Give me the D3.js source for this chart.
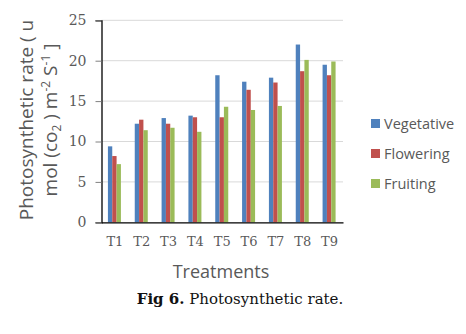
<!DOCTYPE html>
<html>
<head>
<meta charset="utf-8">
<script src="https://cdn.jsdelivr.net/npm/d3@7"></script>
<style>
  body { margin: 0; background: #fff; }
  svg { display: block; }
</style>
</head>
<body>
<div id="chart"></div>
<script>
// treatments and photosynthetic rate per growth stage
const treatments = ["T1", "T2", "T3", "T4", "T5", "T6", "T7", "T8", "T9"];
const stages = ["Vegetative", "Flowering", "Fruiting"];
const vegetative = [9.4, 12.2, 12.9, 13.2, 18.2, 17.4, 17.9, 22.0, 19.5];
const flowering = [8.2, 12.7, 12.2, 13.0, 13.0, 16.4, 17.3, 18.7, 18.2];
const fruiting = [7.2, 11.4, 11.7, 11.2, 14.3, 13.9, 14.4, 20.1, 19.9];
const yTicks = [0, 5, 10, 15, 20, 25];

const colors = ["#4f81bd", "#c0504d", "#9bbb59"];
const series = [vegetative, flowering, fruiting];

const width = 466;
const height = 334;
const plot = { left: 101.5, right: 343, top: 20.3, bottom: 222.3 };

const svg = d3.select("#chart")
  .append("svg")
  .attr("width", width)
  .attr("height", height);

const x = d3.scaleBand().domain(treatments).range([plot.left, plot.right]);
const xInner = d3.scaleBand().domain(stages).range([0, 13]);
const y = d3.scaleLinear().domain([0, 25]).range([plot.bottom, plot.top]);

// gridlines
svg.append("g")
  .selectAll("line")
  .data(yTicks.filter(d => d > 0))
  .join("line")
  .attr("x1", plot.left)
  .attr("x2", plot.right)
  .attr("y1", d => y(d))
  .attr("y2", d => y(d))
  .attr("stroke", "#d9d9d9")
  .attr("stroke-width", 1);

// bars
const rows = treatments.map((t, i) => ({ t, values: series.map((s, j) => ({ stage: stages[j], v: s[i], c: colors[j] })) }));
svg.append("g")
  .selectAll("g")
  .data(rows)
  .join("g")
  .attr("transform", d => `translate(${x(d.t) + (x.bandwidth() - 13) / 2 - 0.5},0)`)
  .selectAll("rect")
  .data(d => d.values)
  .join("rect")
  .attr("x", d => xInner(d.stage))
  .attr("width", xInner.bandwidth())
  .attr("y", d => y(d.v))
  .attr("height", d => y(0) - y(d.v))
  .attr("fill", d => d.c);

// y axis
const yAxis = svg.append("g")
  .attr("transform", `translate(${plot.left},0)`)
  .call(d3.axisLeft(y).tickValues(yTicks).tickSize(6).tickPadding(9));
yAxis.select(".domain").attr("stroke", "#000").attr("stroke-width", 1.3);
yAxis.selectAll(".tick line").attr("stroke", "#808080");
yAxis.selectAll("text")
  .attr("font-family", "DejaVu Serif, serif")
  .attr("font-size", 14)
  .attr("fill", "#595959");

// x axis
const xAxis = svg.append("g")
  .attr("transform", `translate(0,${plot.bottom})`)
  .call(d3.axisBottom(x).tickSize(0).tickPadding(14));
xAxis.select(".domain").attr("stroke", "#000").attr("stroke-width", 1.3);
xAxis.selectAll("text")
  .attr("font-family", "DejaVu Serif, serif")
  .attr("font-size", 13)
  .attr("fill", "#595959");

// axis titles
svg.append("text")
  .attr("x", 221)
  .attr("y", 278)
  .attr("text-anchor", "middle")
  .attr("font-family", "Open Sans, sans-serif")
  .attr("font-size", 18)
  .attr("fill", "#595959")
  .text("Treatments");

const yTitle = svg.append("text")
  .attr("transform", "translate(0,120) rotate(-90)")
  .attr("text-anchor", "middle")
  .attr("font-family", "Open Sans, sans-serif")
  .attr("font-size", 19)
  .attr("fill", "#595959");
yTitle.append("tspan").attr("x", 0).attr("y", 33).text("Photosynthetic  rate ( u");
const line2 = yTitle.append("tspan").attr("x", 0).attr("y", 57);
line2.append("tspan").text("mol (co");
line2.append("tspan").attr("font-size", 12).attr("dy", 4).text("2");
line2.append("tspan").attr("dy", -4).text(" ) m");
line2.append("tspan").attr("font-size", 12).attr("dy", -7).text("-2");
line2.append("tspan").attr("dy", 7).text(" S");
line2.append("tspan").attr("font-size", 12).attr("dy", -7).text("-1");
line2.append("tspan").attr("dy", 7).text(" ]");

// legend
const legend = svg.append("g")
  .selectAll("g")
  .data(stages)
  .join("g")
  .attr("transform", (d, i) => `translate(371,${123 + i * 30})`);
legend.append("rect")
  .attr("x", 0)
  .attr("y", -4)
  .attr("width", 9)
  .attr("height", 9)
  .attr("fill", (d, i) => colors[i]);
legend.append("text")
  .attr("x", 13)
  .attr("y", 6)
  .attr("font-family", "Open Sans, sans-serif")
  .attr("font-size", 14.5)
  .attr("fill", "#595959")
  .text(d => d);

// caption
const caption = svg.append("text")
  .attr("x", 240)
  .attr("y", 304)
  .attr("text-anchor", "middle")
  .attr("font-family", "DejaVu Serif, serif")
  .attr("font-size", 15)
  .attr("fill", "#111");
caption.append("tspan").attr("font-weight", "bold").text("Fig 6.");
caption.append("tspan").text(" Photosynthetic rate.");
</script>
</body>
</html>
